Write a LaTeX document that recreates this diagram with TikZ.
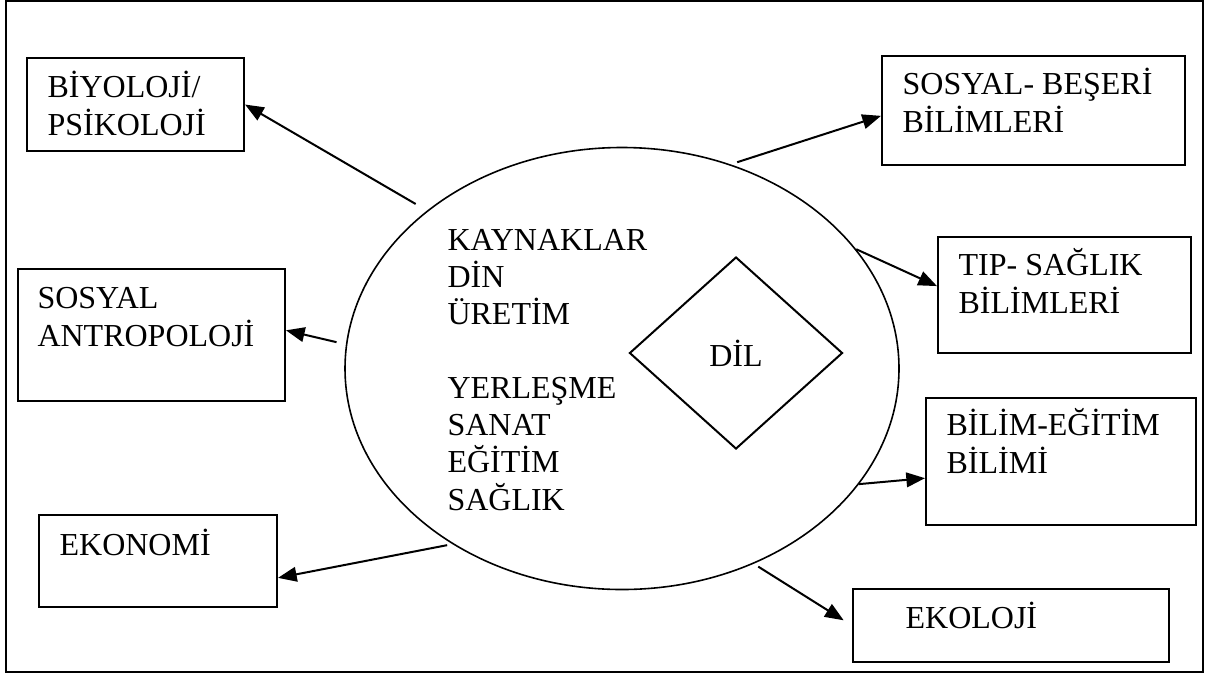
\documentclass[tikz,border=0pt]{standalone}
\usepackage{fontspec}
\setmainfont{Liberation Serif}
\usetikzlibrary{shapes.geometric,arrows.meta}

\begin{document}
\begin{tikzpicture}[x=0.375pt,y=-0.375pt,
  box/.style={draw,line width=0.75pt,anchor=north west,inner sep=0pt},
  txt/.style={anchor=base west,align=left,inner sep=0pt,font=\fontsize{12}{14.25}\selectfont},
  link/.style={line width=0.75pt,-{Triangle[length=7pt,width=5.5pt]}}]
\useasboundingbox (0,0) rectangle (1212,675);
\draw[line width=0.6pt] (6,1) rectangle (1203,672);

\node[draw,ellipse,line width=0.6pt,minimum width=207.75pt,minimum height=165.75pt,inner sep=0pt] (ell) at (622,368.5) {};
\node[draw,diamond,line width=0.75pt,minimum width=79.9pt,minimum height=72pt,inner sep=0pt,font=\fontsize{12}{14}\selectfont] (dil) at (736,353) {DİL};
\node[txt,font=\fontsize{12}{13.9}\selectfont] (liste) at (447,510) {KAYNAKLAR\\DİN\\ÜRETİM\\[13.9pt]YERLEŞME\\SANAT\\EĞİTİM\\SAĞLIK};

\node[box,minimum width=81.4pt,minimum height=34.9pt,label={[txt,xshift=7.9pt,yshift=-29.25pt]north west:BİYOLOJİ/\\PSİKOLOJİ}] (bio) at (26,57) {};
\node[box,minimum width=100.1pt,minimum height=49.5pt,label={[txt,xshift=7.5pt,yshift=-29.25pt]north west:SOSYAL\\ANTROPOLOJİ}] (antro) at (17,268) {};
\node[box,minimum width=89.25pt,minimum height=34.5pt,label={[txt,xshift=7.9pt,yshift=-15.4pt]north west:EKONOMİ}] (eko) at (38,514) {};
\node[box,minimum width=113.6pt,minimum height=40.9pt,label={[txt,xshift=7.9pt,yshift=-28.9pt]north west:SOSYAL- BEŞERİ\\BİLİMLERİ}] (beseri) at (881,55) {};
\node[box,minimum width=94.9pt,minimum height=43.5pt,label={[txt,xshift=7.9pt,yshift=-28.9pt]north west:TIP- SAĞLIK\\BİLİMLERİ}] (saglik) at (937,236) {};
\node[box,minimum width=101.25pt,minimum height=47.6pt,label={[txt,xshift=7.9pt,yshift=-28.7pt]north west:BİLİM-EĞİTİM\\BİLİMİ}] (bilim) at (925,397) {};
\node[box,minimum width=118.5pt,minimum height=27.4pt,label={[txt,xshift=19.9pt,yshift=-15pt]north west:EKOLOJİ}] (ekoloji) at (852,588) {};

\draw[link,shorten <=4.9pt] (ell.141) -- (bio.east);
\draw[link,shorten <=3.6pt] (ell.175) -- (antro.2);
\draw[link,shorten <=2pt] (ell.226) -- (eko.-8);
\draw[link,shorten <=2.6pt] (ell.62) -- (beseri.182);
\draw[link] (ell.27) -- (saglik.176);
\draw[link] (ell.-26) -- (bilim.187);
\draw[link,shorten <=2pt,shorten >=3.7pt] (ell.-56) -- (ekoloji.west);
\end{tikzpicture}
\end{document}
